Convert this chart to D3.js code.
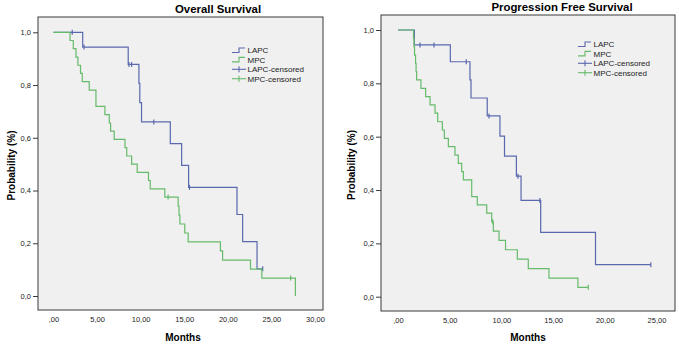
<!DOCTYPE html>
<html>
<head>
<meta charset="utf-8">
<script src="https://cdn.jsdelivr.net/npm/d3@7"></script>
<style>
  html, body { margin: 0; padding: 0; background: #fff; }
  svg { display: block; font-family: "Liberation Sans", Arial, sans-serif; }
</style>
</head>
<body>
<div id="chart"></div>
<script>
// ---- data ----
// Overall survival
const osLapcTime = [0, 3.35, 8.57, 9.8, 9.9, 10.1, 13.4, 14.7, 15.5, 21.05, 21.7, 23.35];
const osLapcSurv = [1, 0.944, 0.878, 0.806, 0.733, 0.66, 0.578, 0.495, 0.412, 0.309, 0.206, 0.103];
const osLapcCensored = [2.15, 3.5, 8.65, 8.96, 11.5, 15.6, 24.0];

const osMpcTime = [0, 1.9, 2.27, 2.58, 2.8, 3.1, 3.3, 4.1, 4.87, 5.9, 6.4, 6.55, 6.96, 8.2, 8.4,
  8.96, 9.6, 10.9, 11.1, 12.77, 14.3, 14.4, 14.5, 15.06, 15.45, 19.15, 19.4, 22.6, 23.9, 27.75];
const osMpcSurv = [1, 0.969, 0.938, 0.906, 0.875, 0.844, 0.813, 0.781, 0.719, 0.688, 0.656, 0.625,
  0.594, 0.563, 0.531, 0.5, 0.469, 0.438, 0.406, 0.375, 0.341, 0.307, 0.273, 0.239, 0.205, 0.171,
  0.136, 0.102, 0.068, 0];
const osMpcCensored = [13.15, 27.2];

// Progression free survival
const pfsLapcTime = [0, 1.58, 5.06, 6.96, 7.06, 8.63, 9.86, 10.3, 11.45, 11.9, 13.8, 19.1];
const pfsLapcSurv = [1, 0.944, 0.881, 0.813, 0.745, 0.678, 0.602, 0.527, 0.452, 0.361, 0.241, 0.12];
const pfsLapcCensored = [2.13, 3.48, 6.6, 8.8, 11.6, 13.72, 24.45];

const pfsMpcTime = [0, 1.5, 1.55, 1.6, 1.7, 1.75, 1.8, 2.22, 2.67, 3.1, 3.58, 3.84, 4.29, 4.48, 4.87,
  5.51, 5.83, 6.16, 6.32, 7.13, 7.67, 8.58, 9.06, 9.22, 9.77, 10.4, 11.54, 12.6, 14.6, 17.4];
const pfsMpcSurv = [1, 0.969, 0.938, 0.906, 0.875, 0.844, 0.813, 0.781, 0.75, 0.719, 0.688, 0.656,
  0.625, 0.594, 0.563, 0.531, 0.5, 0.469, 0.438, 0.375, 0.344, 0.313, 0.281, 0.246, 0.211, 0.176,
  0.141, 0.105, 0.07, 0.035];
const pfsMpcCensored = [9.16, 18.4];

const legendLabels = ["LAPC", "MPC", "LAPC-censored", "MPC-censored"];
const osXTicks = [0, 5, 10, 15, 20, 25, 30];
const pfsXTicks = [0, 5, 10, 15, 20, 25];
const yTicks = [0, 0.2, 0.4, 0.6, 0.8, 1.0];

const lapcColor = "#5a68ae";
const mpcColor = "#66bb6a";

const width = 679, height = 349;

const svg = d3.select("#chart").append("svg")
  .attr("width", width)
  .attr("height", height)
  .attr("viewBox", `0 0 ${width} ${height}`);

// survival value at a time (step function lookup)
const survAt = (times, surv, t) => {
  const i = d3.bisectRight(times, t) - 1;
  return surv[Math.max(0, i)];
};

const drawPanel = (p) => {
  const x = d3.scaleLinear().domain([0, p.xTicks[p.xTicks.length - 1]]).range(p.xRange);
  const y = d3.scaleLinear().domain([0, 1]).range(p.yRange);
  const f = p.frame;

  // -----------------------------
  // plot area
  // -----------------------------
  svg.append("rect")
    .attr("x", f.x0).attr("y", f.y0)
    .attr("width", f.x1 - f.x0).attr("height", f.y1 - f.y0)
    .attr("fill", "#f0f0f0")
    .attr("stroke", "#3a3a3a")
    .attr("stroke-width", 1);

  // -----------------------------
  // axes
  // -----------------------------
  const yAxis = svg.append("g")
    .attr("transform", `translate(${f.x0},0)`)
    .call(d3.axisLeft(y).tickValues(yTicks).tickSize(5).tickPadding(2)
      .tickFormat(d => d.toFixed(1).replace(".", ",")));
  yAxis.select(".domain").remove();
  yAxis.selectAll("line").attr("stroke", "#3a3a3a");
  yAxis.selectAll("text").attr("fill", "#222").style("font-size", "7.5px")
    .style("font-family", "Liberation Sans, Arial, sans-serif");

  const xAxis = svg.append("g")
    .attr("transform", `translate(0,${f.y1})`)
    .call(d3.axisBottom(x).tickValues(p.xTicks).tickSize(0).tickPadding(7)
      .tickFormat(d => d === 0 ? ",00" : d.toFixed(2).replace(".", ",")));
  xAxis.select(".domain").remove();
  xAxis.selectAll("text").attr("fill", "#222").style("font-size", "7.5px")
    .style("font-family", "Liberation Sans, Arial, sans-serif");

  // -----------------------------
  // survival curves
  // -----------------------------
  const line = d3.line()
    .x(d => x(d[0]))
    .y(d => y(d[1]))
    .curve(d3.curveStepAfter);

  p.series.forEach(s => {
    const pts = s.time.map((t, i) => [t, s.surv[i]]);
    const lastT = s.time[s.time.length - 1];
    const endT = d3.max(s.censored.concat([lastT]));
    if (endT > lastT) pts.push([endT, s.surv[s.surv.length - 1]]);

    svg.append("path")
      .datum(pts)
      .attr("fill", "none")
      .attr("stroke", s.color)
      .attr("stroke-width", 1.2)
      .attr("d", line);

    svg.selectAll(null)
      .data(s.censored)
      .join("line")
      .attr("x1", d => x(d)).attr("x2", d => x(d))
      .attr("y1", d => y(survAt(s.time, s.surv, d)) - 2.5)
      .attr("y2", d => y(survAt(s.time, s.surv, d)) + 2.5)
      .attr("stroke", s.color)
      .attr("stroke-width", 1.2);
  });

  // -----------------------------
  // titles
  // -----------------------------
  svg.append("text")
    .attr("x", p.titleX).attr("y", p.titleY)
    .attr("text-anchor", "middle")
    .style("font-size", "11.4px").style("font-weight", "bold")
    .text(p.title);

  svg.append("text")
    .attr("transform", `translate(${p.ylabX},${(f.y0 + f.y1) / 2 + 2}) rotate(-90)`)
    .attr("text-anchor", "middle")
    .style("font-size", "10px").style("font-weight", "bold")
    .text("Probability (%)");

  svg.append("text")
    .attr("x", p.xlabX).attr("y", 341)
    .attr("text-anchor", "middle")
    .style("font-size", "10px").style("font-weight", "bold")
    .text("Months");

  // -----------------------------
  // legend
  // -----------------------------
  const legend = svg.append("g")
    .attr("transform", `translate(${p.legendX},${p.legendY})`);

  legendLabels.forEach((label, i) => {
    const g = legend.append("g").attr("transform", `translate(0,${i * 9.4})`);
    const c = i % 2 === 0 ? lapcColor : mpcColor;
    if (i < 2) {
      g.append("path")
        .attr("d", "M0,2 H7 V-2.5 H13")
        .attr("fill", "none").attr("stroke", c).attr("stroke-width", 1.1);
    } else {
      g.append("line").attr("x1", 0).attr("x2", 14).attr("y1", 0).attr("y2", 0)
        .attr("stroke", c).attr("stroke-width", 1.1);
      g.append("line").attr("x1", 7).attr("x2", 7).attr("y1", -3).attr("y2", 3)
        .attr("stroke", c).attr("stroke-width", 1.1);
    }
    g.append("text")
      .attr("x", 15.5).attr("y", 2.8)
      .style("font-size", "8px")
      .attr("fill", "#222")
      .text(label);
  });
};

drawPanel({
  title: "Overall Survival",
  frame: { x0: 38, x1: 323, y0: 17, y1: 310 },
  xRange: [53.5, 315], yRange: [296, 32.3],
  xTicks: osXTicks,
  titleX: 218, titleY: 13,
  ylabX: 15, xlabX: 183,
  legendX: 232, legendY: 50.5,
  series: [
    { time: osLapcTime, surv: osLapcSurv, censored: osLapcCensored, color: lapcColor },
    { time: osMpcTime, surv: osMpcSurv, censored: osMpcCensored, color: mpcColor }
  ]
});

drawPanel({
  title: "Progression Free Survival",
  frame: { x0: 381, x1: 675, y0: 15, y1: 311 },
  xRange: [398, 656.5], yRange: [296.7, 30],
  xTicks: pfsXTicks,
  titleX: 562, titleY: 11,
  ylabX: 355, xlabX: 528,
  legendX: 578, legendY: 44.5,
  series: [
    { time: pfsLapcTime, surv: pfsLapcSurv, censored: pfsLapcCensored, color: lapcColor },
    { time: pfsMpcTime, surv: pfsMpcSurv, censored: pfsMpcCensored, color: mpcColor }
  ]
});
</script>
</body>
</html>
